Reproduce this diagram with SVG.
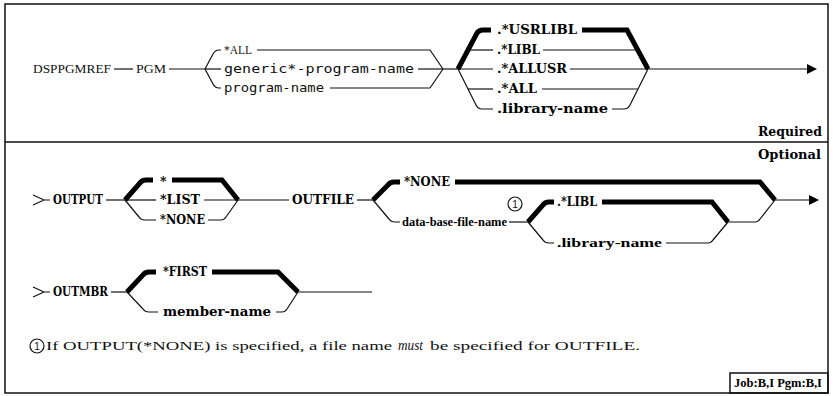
<svg xmlns="http://www.w3.org/2000/svg" width="833" height="396" viewBox="0 0 833 396">
<defs>
<style>
.bg{fill:#fff}
.frame{fill:none;stroke:#111;stroke-width:1.5}
.thin{fill:none;stroke:#111;stroke-width:1.2;stroke-linejoin:round}
.thick{fill:none;stroke:#000;stroke-width:5;stroke-linejoin:miter;stroke-miterlimit:10}
.arrow{fill:#000}
.reg{font-family:"Liberation Serif","DejaVu Serif",serif;font-size:13px;fill:#111}
.mono{font-family:"DejaVu Sans Mono","Liberation Mono",monospace;font-size:12.5px;fill:#111}
.b{font-family:"DejaVu Serif","Liberation Serif",serif;font-size:12.5px;font-weight:bold;fill:#000}
.bn{font-family:"Liberation Serif","DejaVu Serif",serif;font-size:13.5px;font-weight:bold;fill:#000}
.it{font-family:"Liberation Serif",serif;font-style:italic;font-size:14px;fill:#111}
.num{font-family:"Liberation Sans",sans-serif;font-size:10px;fill:#111;text-anchor:middle}
</style>
</defs>
<rect class="bg" x="0" y="0" width="833" height="396"/>
<rect class="frame" x="5" y="4" width="823" height="389"/>
<line class="frame" x1="5" y1="142" x2="828" y2="142"/>

<g id="connectors">
<!-- Row 1 -->
<path class="thin" d="M114,69 L133,69"/>
<path class="thin" d="M169,69 L205,69"/>
<path class="thin" d="M205,69 L213,54 Q215,50 219,50 L221,50"/>
<path class="thin" d="M205,69 L221,69"/>
<path class="thin" d="M205,69 L213,84 Q215,88 219,88 L221,88"/>
<path class="thin" d="M257,50 L430,50 L443,69"/>
<path class="thin" d="M418,69 L443,69"/>
<path class="thin" d="M330,88 L430,88 L443,69"/>
<path class="thin" d="M443,69 L458,69"/>
<path class="thick" d="M458,69 L477,33 Q479,30 483,30 L491,30"/>
<path class="thin" d="M468,50 L493,50"/>
<path class="thin" d="M458,69 L493,69"/>
<path class="thin" d="M458,69 L476,105 Q478,109 482,109 L493,109"/>
<path class="thin" d="M468,89 L493,89"/>
<path class="thick" d="M582,30 L627,30 L648,69"/>
<path class="thin" d="M543,50 L638,50"/>
<path class="thin" d="M570,69 L648,69"/>
<path class="thin" d="M542,89 L638,89"/>
<path class="thin" d="M612,109 L624,109 Q628,109 630,105 L648,69"/>
<path class="thin" d="M648,69 L808,69"/>
<polygon class="arrow" points="807,64 817,69 807,74"/>
<!-- Row 2 -->
<path class="thin" d="M33,195 L44,200 L33,205 M44,200 L50,200"/>
<path class="thin" d="M106,200 L125,200"/>
<path class="thick" d="M125,200 L140,183 Q142,180 146,180 L153,180"/>
<path class="thin" d="M125,200 L156,200"/>
<path class="thin" d="M125,200 L139,217 Q141,220 145,220 L156,220"/>
<path class="thick" d="M172,180 L222,180 L238,200"/>
<path class="thin" d="M204,200 L238,200"/>
<path class="thin" d="M208,220 L221,220 Q224,220 226,217 L238,200"/>
<path class="thin" d="M238,200 L289,200"/>
<path class="thin" d="M357,200 L373,200"/>
<path class="thick" d="M373,200 L388,185 Q390,182 394,182 L400,182"/>
<path class="thin" d="M373,200 L389,219 Q391,222 395,222 L400,222"/>
<path class="thick" d="M455,182 L760,182 L775,200"/>
<path class="thin" d="M509,222 L528,222"/>
<path class="thick" d="M528,222 L543,205 Q545,202 549,202 L554,202"/>
<path class="thin" d="M528,222 L543,240 Q545,243 549,243 L554,243"/>
<path class="thick" d="M602,202 L712,202 L728,222"/>
<path class="thin" d="M666,243 L708,243 Q711,243 713,240 L728,222"/>
<path class="thin" d="M728,222 L755,222 Q758,222 760,219 L775,200"/>
<path class="thin" d="M775,200 L810,200"/>
<polygon class="arrow" points="809,195 819,200 809,205"/>
<!-- Row 3 -->
<path class="thin" d="M33,287 L44,292 L33,297 M44,292 L50,292"/>
<path class="thin" d="M111,292 L127,292"/>
<path class="thick" d="M127,292 L143,275 Q145,272 149,272 L156,272"/>
<path class="thin" d="M127,292 L143,309 Q145,312 149,312 L158,312"/>
<path class="thick" d="M212,272 L278,272 L298,292"/>
<path class="thin" d="M276,312 L282,312 Q285,312 287,309 L298,292"/>
<path class="thin" d="M298,292 L372,292"/>
</g>

<g id="n-dsppgmref"><text class="reg" x="33" y="73" textLength="78" lengthAdjust="spacingAndGlyphs">DSPPGMREF</text></g>
<g id="n-pgm"><text class="reg" x="136" y="73" textLength="30" lengthAdjust="spacingAndGlyphs">PGM</text></g>
<g id="n-all"><text class="reg" x="224" y="54" textLength="28" lengthAdjust="spacingAndGlyphs">*ALL</text></g>
<g id="n-generic"><text class="mono" x="224" y="73" textLength="190" lengthAdjust="spacingAndGlyphs">generic*-program-name</text></g>
<g id="n-program"><text class="mono" x="224" y="92" textLength="100" lengthAdjust="spacingAndGlyphs">program-name</text></g>
<g id="n-usrlibl"><text class="b" x="497" y="34" textLength="80" lengthAdjust="spacingAndGlyphs">.*USRLIBL</text></g>
<g id="n-libl"><text class="b" x="497" y="54" textLength="43" lengthAdjust="spacingAndGlyphs">.*LIBL</text></g>
<g id="n-allusr"><text class="b" x="497" y="73" textLength="70" lengthAdjust="spacingAndGlyphs">.*ALLUSR</text></g>
<g id="n-dotall"><text class="b" x="497" y="93" textLength="40" lengthAdjust="spacingAndGlyphs">.*ALL</text></g>
<g id="n-libname1"><text class="b" x="497" y="113" textLength="111" lengthAdjust="spacingAndGlyphs">.library-name</text></g>
<g id="n-required"><text class="b" x="758" y="136" textLength="64" lengthAdjust="spacingAndGlyphs">Required</text></g>
<g id="n-optional"><text class="b" x="758" y="159" textLength="63" lengthAdjust="spacingAndGlyphs">Optional</text></g>

<g id="n-output"><text class="b" x="53" y="204" textLength="50" lengthAdjust="spacingAndGlyphs">OUTPUT</text></g>
<g id="n-star"><text class="b" x="160" y="186">*</text></g>
<g id="n-list"><text class="b" x="160" y="204" textLength="40" lengthAdjust="spacingAndGlyphs">*LIST</text></g>
<g id="n-none1"><text class="b" x="160" y="224" textLength="45" lengthAdjust="spacingAndGlyphs">*NONE</text></g>
<g id="n-outfile"><text class="b" x="292" y="204" textLength="62" lengthAdjust="spacingAndGlyphs">OUTFILE</text></g>
<g id="n-none2"><text class="b" x="404" y="186" textLength="46" lengthAdjust="spacingAndGlyphs">*NONE</text></g>
<g id="n-dbfile"><text class="bn" x="402" y="226" textLength="105" lengthAdjust="spacingAndGlyphs">data-base-file-name</text></g>
<g id="n-note1"><circle class="thin" cx="515" cy="204" r="7"/><text class="num" x="515" y="207.5">1</text></g>
<g id="n-libl2"><text class="b" x="557" y="206" textLength="40" lengthAdjust="spacingAndGlyphs">.*LIBL</text></g>
<g id="n-libname2"><text class="bn" x="557" y="247" textLength="105" lengthAdjust="spacingAndGlyphs">.library-name</text></g>

<g id="n-outmbr"><text class="b" x="53" y="296" textLength="55" lengthAdjust="spacingAndGlyphs">OUTMBR</text></g>
<g id="n-first"><text class="b" x="163" y="276" textLength="44" lengthAdjust="spacingAndGlyphs">*FIRST</text></g>
<g id="n-member"><text class="b" x="163" y="316" textLength="108" lengthAdjust="spacingAndGlyphs">member-name</text></g>

<g id="footnote">
<circle class="thin" cx="37" cy="346" r="7"/><text class="num" x="37" y="349.5">1</text>
<text class="reg" x="46" y="350" textLength="346" lengthAdjust="spacingAndGlyphs">If OUTPUT(*NONE) is specified, a file name</text>
<text class="it" x="398" y="350" textLength="25" lengthAdjust="spacingAndGlyphs">must</text>
<text class="reg" x="430" y="350" textLength="210" lengthAdjust="spacingAndGlyphs">be specified for OUTFILE.</text>
</g>

<g id="n-job">
<rect class="frame" x="730" y="373" width="98" height="20"/>
<text class="bn" x="734" y="387" font-size="12" textLength="88" lengthAdjust="spacingAndGlyphs">Job:B,I Pgm:B,I</text>
</g>
</svg>
